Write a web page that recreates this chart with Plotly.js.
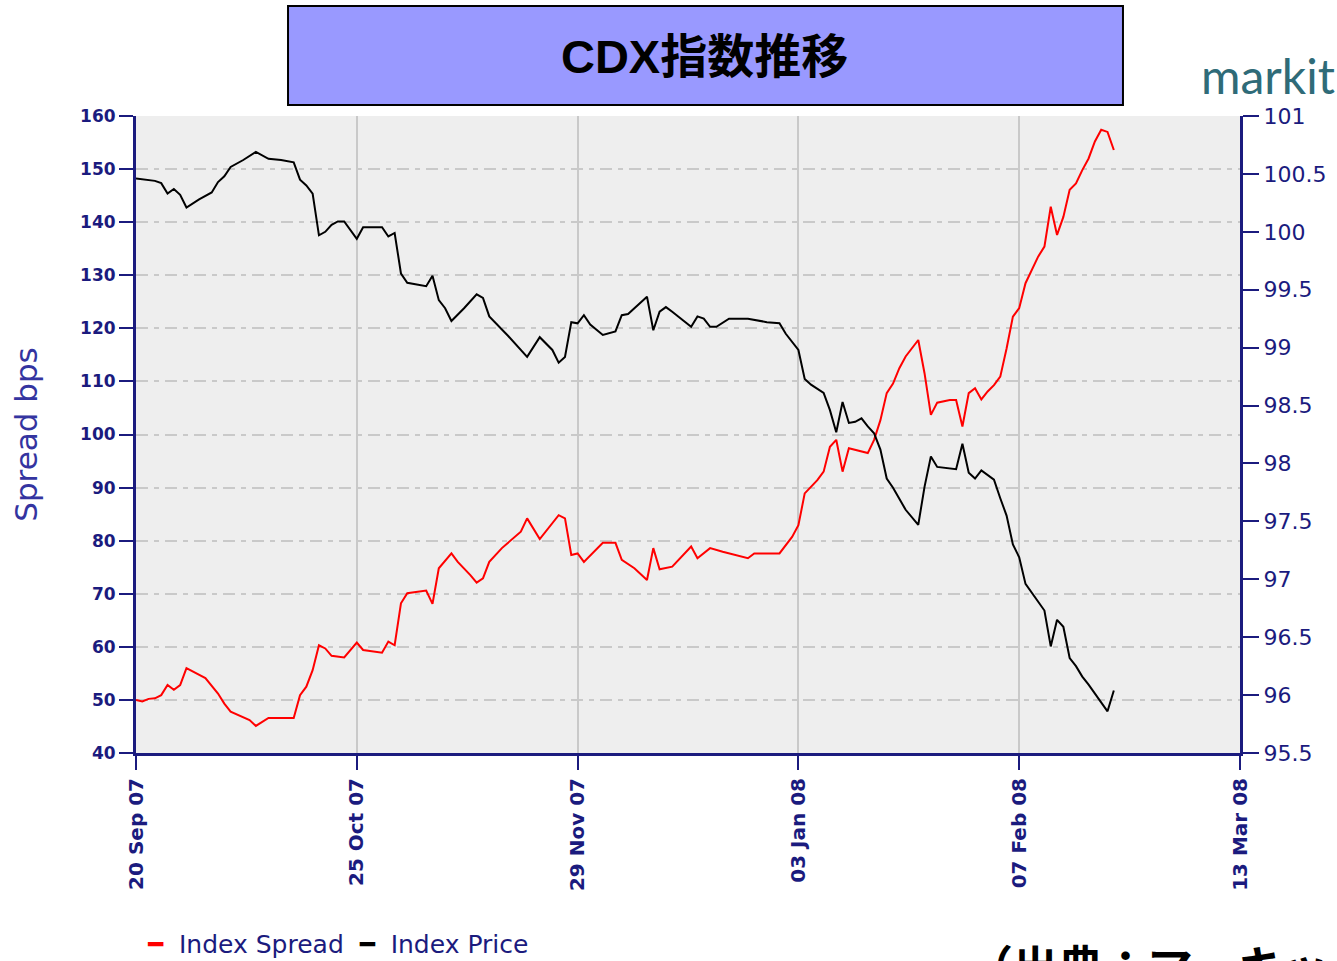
<!DOCTYPE html>
<html>
<head>
<meta charset="utf-8">
<script src="https://cdn.plot.ly/plotly-3.0.1.min.js"></script>
<style>html,body{margin:0;padding:0;background:#fff;}#chart{width:1337px;height:961px;}</style>
</head>
<body>
<div id="chart"></div>
<script>
// Index Spread (bps), left axis
const spreadDates = ["2007-09-20","2007-09-21","2007-09-22","2007-09-23","2007-09-24","2007-09-25","2007-09-26","2007-09-27","2007-09-28","2007-09-30","2007-10-01","2007-10-03","2007-10-04","2007-10-05","2007-10-08","2007-10-09","2007-10-11","2007-10-15","2007-10-16","2007-10-17","2007-10-18","2007-10-19","2007-10-20","2007-10-21","2007-10-23","2007-10-25","2007-10-26","2007-10-29","2007-10-30","2007-10-31","2007-11-01","2007-11-02","2007-11-05","2007-11-06","2007-11-07","2007-11-09","2007-11-10","2007-11-12","2007-11-13","2007-11-14","2007-11-15","2007-11-17","2007-11-20","2007-11-21","2007-11-23","2007-11-26","2007-11-27","2007-11-28","2007-11-29","2007-11-30","2007-12-03","2007-12-05","2007-12-06","2007-12-08","2007-12-10","2007-12-11","2007-12-12","2007-12-14","2007-12-17","2007-12-18","2007-12-20","2007-12-22","2007-12-25","2007-12-26","2007-12-27","2007-12-31","2008-01-02","2008-01-03","2008-01-04","2008-01-05","2008-01-06","2008-01-07","2008-01-08","2008-01-09","2008-01-10","2008-01-11","2008-01-14","2008-01-15","2008-01-16","2008-01-17","2008-01-18","2008-01-19","2008-01-20","2008-01-22","2008-01-23","2008-01-24","2008-01-25","2008-01-27","2008-01-28","2008-01-29","2008-01-30","2008-01-31","2008-02-01","2008-02-02","2008-02-03","2008-02-04","2008-02-05","2008-02-06","2008-02-07","2008-02-08","2008-02-09","2008-02-10","2008-02-11","2008-02-12","2008-02-13","2008-02-14","2008-02-15","2008-02-16","2008-02-17","2008-02-18","2008-02-19","2008-02-20","2008-02-21","2008-02-22"];
const spreadValues = [50.0,49.7,50.2,50.3,50.9,52.8,51.9,52.8,56.0,54.7,54.1,51.2,49.3,47.8,46.2,45.1,46.6,46.6,50.9,52.5,55.6,60.3,59.7,58.3,58.0,60.8,59.4,58.9,61.0,60.3,68.2,70.1,70.6,68.1,74.8,77.6,76.0,73.5,72.1,72.9,76.0,78.6,81.7,84.2,80.3,84.8,84.2,77.3,77.6,76.0,79.6,79.6,76.4,74.8,72.6,78.6,74.6,75.1,78.9,76.7,78.6,77.9,77.0,76.7,77.6,77.6,80.7,82.9,88.9,90.2,91.4,93.0,97.7,99.0,93.0,97.4,96.5,99.0,102.7,107.8,109.6,112.5,114.7,117.8,111.5,103.7,106.0,106.5,106.5,101.5,107.8,108.7,106.6,108.1,109.3,110.9,116.2,122.2,123.8,128.5,131.0,133.5,135.4,142.9,137.6,141.0,146.1,147.3,149.8,152.0,155.2,157.4,157.0,153.6];

// Index Price, right axis
const priceDates = ["2007-09-20","2007-09-23","2007-09-24","2007-09-25","2007-09-26","2007-09-27","2007-09-28","2007-09-30","2007-10-02","2007-10-03","2007-10-04","2007-10-05","2007-10-07","2007-10-09","2007-10-11","2007-10-13","2007-10-15","2007-10-16","2007-10-17","2007-10-18","2007-10-19","2007-10-20","2007-10-21","2007-10-22","2007-10-23","2007-10-25","2007-10-26","2007-10-29","2007-10-30","2007-10-31","2007-11-01","2007-11-02","2007-11-05","2007-11-06","2007-11-07","2007-11-08","2007-11-09","2007-11-11","2007-11-13","2007-11-14","2007-11-15","2007-11-18","2007-11-21","2007-11-23","2007-11-25","2007-11-26","2007-11-27","2007-11-28","2007-11-29","2007-11-30","2007-12-01","2007-12-03","2007-12-05","2007-12-06","2007-12-07","2007-12-10","2007-12-11","2007-12-12","2007-12-13","2007-12-14","2007-12-17","2007-12-18","2007-12-19","2007-12-20","2007-12-21","2007-12-23","2007-12-26","2007-12-29","2007-12-31","2008-01-01","2008-01-03","2008-01-04","2008-01-05","2008-01-07","2008-01-08","2008-01-09","2008-01-10","2008-01-11","2008-01-12","2008-01-13","2008-01-14","2008-01-15","2008-01-16","2008-01-17","2008-01-18","2008-01-20","2008-01-22","2008-01-23","2008-01-24","2008-01-25","2008-01-28","2008-01-29","2008-01-30","2008-01-31","2008-02-01","2008-02-02","2008-02-03","2008-02-04","2008-02-05","2008-02-06","2008-02-07","2008-02-08","2008-02-09","2008-02-10","2008-02-11","2008-02-12","2008-02-13","2008-02-14","2008-02-15","2008-02-16","2008-02-17","2008-02-18","2008-02-19","2008-02-20","2008-02-21","2008-02-22"];
const priceValues = [100.46,100.44,100.42,100.33,100.37,100.32,100.21,100.28,100.34,100.43,100.48,100.56,100.62,100.69,100.63,100.62,100.60,100.45,100.40,100.33,99.97,100.00,100.06,100.09,100.09,99.94,100.04,100.04,99.96,99.99,99.64,99.56,99.53,99.62,99.41,99.34,99.23,99.34,99.46,99.43,99.27,99.10,98.92,99.09,98.98,98.87,98.92,99.22,99.21,99.28,99.20,99.11,99.14,99.28,99.29,99.44,99.15,99.31,99.35,99.31,99.18,99.27,99.25,99.18,99.18,99.25,99.25,99.22,99.21,99.12,98.98,98.73,98.68,98.61,98.46,98.27,98.53,98.35,98.36,98.39,98.32,98.26,98.12,97.87,97.79,97.60,97.47,97.80,98.06,97.97,97.95,98.17,97.92,97.87,97.94,97.90,97.86,97.70,97.55,97.30,97.19,96.96,96.88,96.80,96.73,96.42,96.65,96.59,96.32,96.25,96.16,96.09,96.01,95.93,95.86,96.04];

const xTickVals = ["2007-09-20","2007-10-25","2007-11-29","2008-01-03","2008-02-07","2008-03-13"];
const xTickText = ["20 Sep 07","25 Oct 07","29 Nov 07","03 Jan 08","07 Feb 08","13 Mar 08"];
const leftTickVals = [40,50,60,70,80,90,100,110,120,130,140,150,160];
const leftTickText = ["40","50","60","70","80","90","100","110","120","130","140","150","160"];
const rightTickVals = [95.5,96,96.5,97,97.5,98,98.5,99,99.5,100,100.5,101];
const rightTickText = ["95.5","96","96.5","97","97.5","98","98.5","99","99.5","100","100.5","101"];

const titleText = "CDX指数推移";
const leftAxisTitle = "Spread bps";
const seriesNames = ["Index Spread","Index Price"];
const sourceText = "（出典：マーキット）";
const logoText = "markit";

const navy = "#1b1b7e";
const gridCol = "#c9c9c9";

const traces = [
  {x: spreadDates, y: spreadValues, name: seriesNames[0], type: "scatter", mode: "lines",
   line: {color: "#ff0000", width: 2}, yaxis: "y", showlegend: false},
  {x: priceDates, y: priceValues, name: seriesNames[1], type: "scatter", mode: "lines",
   line: {color: "#000000", width: 2}, yaxis: "y2", showlegend: false}
];

const layout = {
  width: 1337, height: 961,
  margin: {l: 136, r: 97, t: 116, b: 208, pad: 0},
  paper_bgcolor: "#ffffff",
  plot_bgcolor: "#eeeeee",
  title: {text: "<b>" + titleText + "</b>", x: 0.527, xanchor: "center", y: 0.941, yanchor: "middle",
          font: {family: "Liberation Sans, Noto Sans CJK JP, sans-serif", size: 47, color: "#000000"}},
  xaxis: {
    type: "date", range: ["2007-09-20", "2008-03-13"],
    tickmode: "array", tickvals: xTickVals, ticktext: xTickText, tickangle: -90,
    ticks: "outside", ticklen: 14, tickwidth: 2, tickcolor: navy,
    showline: true, linecolor: navy, linewidth: 3,
    showgrid: true, gridcolor: gridCol, gridwidth: 2,
    zeroline: false,
    tickfont: {family: "DejaVu Sans", size: 20, color: navy, weight: "bold"}
  },
  yaxis: {
    range: [40, 160], tickmode: "array", tickvals: leftTickVals, ticktext: leftTickText,
    ticks: "outside", ticklen: 14, tickwidth: 2, tickcolor: navy,
    showline: true, linecolor: navy, linewidth: 3,
    showgrid: true, gridcolor: gridCol, gridwidth: 2, griddash: "12px,6px,5px,6px",
    zeroline: false,
    tickfont: {family: "DejaVu Sans", size: 17, color: navy, weight: "bold"},
    title: {text: leftAxisTitle, font: {family: "DejaVu Sans", size: 31, color: "#3434a0"}, standoff: 34}
  },
  yaxis2: {
    range: [95.5, 101], overlaying: "y", side: "right",
    tickmode: "array", tickvals: rightTickVals, ticktext: rightTickText,
    ticks: "outside", ticklen: 16, tickwidth: 2, tickcolor: navy,
    showline: true, linecolor: navy, linewidth: 3,
    showgrid: false, zeroline: false,
    tickfont: {family: "DejaVu Sans", size: 22, color: navy}
  },
  shapes: [
    {type: "rect", xref: "paper", yref: "paper", x0: 0.1377, x1: 0.894, y0: 1.0173, y1: 1.1727,
     fillcolor: "#9999ff", line: {color: "#000000", width: 2}, layer: "below"}
  ],
  annotations: [
    {xref: "paper", yref: "paper", x: 0.963, y: 1.016, xanchor: "left", yanchor: "bottom",
     text: logoText, showarrow: false,
     font: {family: "Lato, Noto Sans, sans-serif", size: 48, color: "#2f6b78"}},
    {xref: "paper", yref: "paper", x: 0.0085, y: -0.3014, xanchor: "left", yanchor: "middle",
     text: "<span style='color:#ff0000'>━</span>  " + seriesNames[0] + "  <span style='color:#000000'>━</span>  " + seriesNames[1],
     showarrow: false, font: {family: "DejaVu Sans", size: 25, color: navy}},
    {xref: "paper", yref: "paper", x: 0.752, y: -0.2779, xanchor: "left", yanchor: "top",
     text: "<b>" + sourceText + "</b>", showarrow: false,
     font: {family: "Noto Sans CJK JP, sans-serif", size: 45, color: "#000000"}}
  ]
};

Plotly.newPlot("chart", traces, layout, {displayModeBar: false, staticPlot: true});
</script>
</body>
</html>
